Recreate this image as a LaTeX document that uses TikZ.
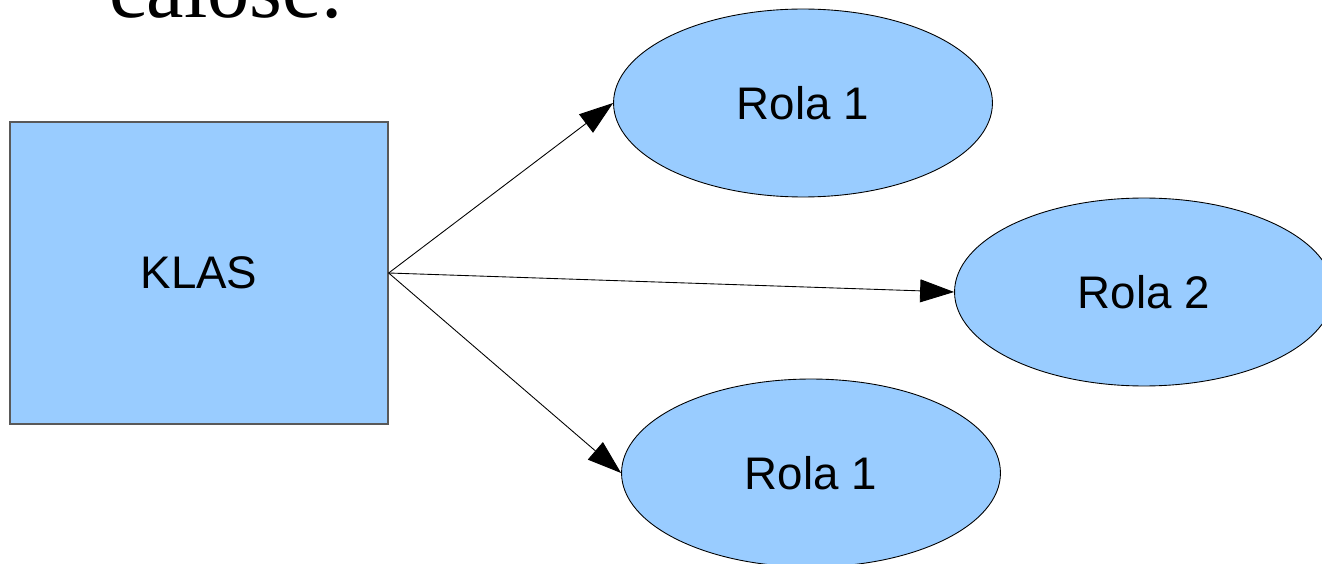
\documentclass[tikz,border=0pt]{standalone}
\usepackage{fontspec}
\setmainfont{Liberation Serif}
\setsansfont{Liberation Sans}
\usetikzlibrary{shapes.geometric,arrows.meta,positioning}
\definecolor{jasnoniebieski}{HTML}{99CCFF}

\begin{document}
\begin{tikzpicture}[x=0.02cm, y=-0.02cm,
    klasa/.style={rectangle, draw=black!65, line width=0.8pt, fill=jasnoniebieski,
        minimum width=7.56cm, minimum height=6.04cm, inner sep=0pt,
        font=\sffamily\fontsize{26}{30}\selectfont},
    rola/.style={ellipse, draw=black, line width=0.5pt, fill=jasnoniebieski,
        minimum width=7.58cm, minimum height=3.76cm, inner sep=0pt,
        font=\sffamily\fontsize{26}{30}\selectfont},
    strzalka/.style={-{Triangle[length=0.68cm, width=0.46cm]}, line width=0.5pt}]
    \useasboundingbox (0,0) rectangle (1322,564);
    \clip (0,0) rectangle (1322,564);

    % Heading line, cut at the top edge
    \node[anchor=base west, inner sep=0pt, font=\fontsize{48}{56}\selectfont] (naglowek) at (109,18) {całość:};

    % Class and its roles
    \node[klasa] (klas) at (199,273) {KLAS};
    \node[rola] (rola1) at (803,103) {Rola 1};
    \node[rola] (rola2) at (1144,292) {Rola 2};
    \node[rola] (rola3) at (811,473) {Rola 1};

    % Arrows from the class to each role
    \draw[strzalka] (klas.east) -- (rola1.west);
    \draw[strzalka] (klas.east) -- (rola2.west);
    \draw[strzalka] (klas.east) -- (rola3.west);
\end{tikzpicture}
\end{document}
